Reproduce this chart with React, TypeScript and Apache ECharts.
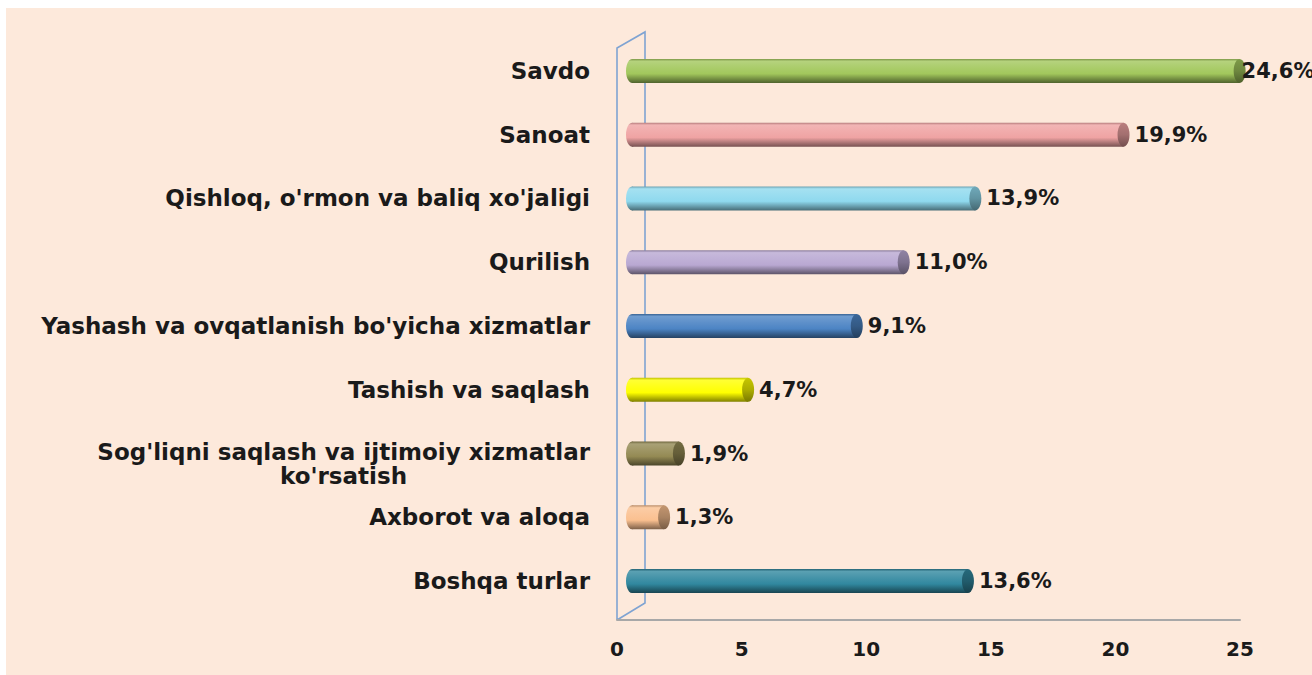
import React, { useEffect, useRef } from 'react';
import * as echarts from 'echarts';

const categories = [
  "Savdo",
  "Sanoat",
  "Qishloq, o'rmon va baliq xo'jaligi",
  "Qurilish",
  "Yashash va ovqatlanish bo'yicha xizmatlar",
  "Tashish va saqlash",
  "Sog'liqni saqlash va ijtimoiy xizmatlar\nko'rsatish",
  "Axborot va aloqa",
  "Boshqa turlar",
];
const values = [24.6, 19.9, 13.9, 11.0, 9.1, 4.7, 1.9, 1.3, 13.6];
const barColors = [
  '#A2C75C',
  '#EFA3A3',
  '#8FD9EE',
  '#B9A8D2',
  '#4C84C4',
  '#FFFF00',
  '#948A54',
  '#FAC090',
  '#31889F',
];
const axisMin = 0;
const axisMax = 25;
const axisInterval = 5;

function parseHex(hex: string) {
  const h = hex.replace('#', '');
  return [parseInt(h.slice(0, 2), 16), parseInt(h.slice(2, 4), 16), parseInt(h.slice(4, 6), 16)];
}
function mix(hex: string, target: number, t: number) {
  const c = parseHex(hex).map((v) => Math.round(v + (target - v) * t));
  return `rgb(${c[0]},${c[1]},${c[2]})`;
}
function cylGrad(hex: string) {
  return new echarts.graphic.LinearGradient(0, 0, 0, 1, [
    { offset: 0, color: mix(hex, 0, 0.25) },
    { offset: 0.1, color: mix(hex, 255, 0.2) },
    { offset: 0.35, color: mix(hex, 255, 0.1) },
    { offset: 0.62, color: hex },
    { offset: 0.85, color: mix(hex, 0, 0.3) },
    { offset: 1, color: mix(hex, 0, 0.5) },
  ]);
}
function capGrad(hex: string) {
  return new echarts.graphic.LinearGradient(0, 0, 0, 1, [
    { offset: 0, color: mix(hex, 0, 0.22) },
    { offset: 0.5, color: mix(hex, 0, 0.32) },
    { offset: 1, color: mix(hex, 0, 0.52) },
  ]);
}
const fmt = (v: number) => v.toFixed(1).replace('.', ',') + '%';

const FONT = 'DejaVu Sans';
const TEXT = '#1a1a1a';

export default function App() {
  const ref = useRef<HTMLDivElement>(null);
  useEffect(() => {
    document.body.style.margin = '0';
    const chart = echarts.init(ref.current!, undefined, { renderer: 'svg' });

    const ctx = document.createElement('canvas').getContext('2d')!;
    ctx.font = `bold 23px "${FONT}"`;
    const multi = categories.find((c) => c.includes('\n')) || '';
    const w1 = Math.ceil(ctx.measureText(multi.split('\n')[0]).width);

    const option: any = {
      animation: false,
      backgroundColor: '#ffffff',
      tooltip: { show: false },
      graphic: [
        {
          type: 'rect',
          z: -10,
          silent: true,
          shape: { x: 6, y: 8, width: 1306, height: 667 },
          style: { fill: '#FDE9DB' },
        },
        {
          type: 'polyline',
          z: -5,
          silent: true,
          shape: { points: [[617, 620], [617, 48], [645, 32], [645, 603], [617, 620]] },
          style: { stroke: '#7FA3D2', lineWidth: 1.6, fill: 'none' },
        },
      ],
      grid: [
        { left: 632, right: 62.5, top: 39, bottom: 62, containLabel: false },
        { left: 617, right: 72, top: 100, bottom: 55, containLabel: false },
      ],
      xAxis: [
        { type: 'value', gridIndex: 0, min: axisMin, max: axisMax, interval: axisInterval, show: false },
        {
          type: 'value',
          gridIndex: 1,
          min: axisMin,
          max: axisMax,
          interval: axisInterval,
          axisLine: { show: true, lineStyle: { color: '#A8A8A8', width: 2 } },
          axisTick: { show: false },
          splitLine: { show: false },
          axisLabel: { margin: 19, fontSize: 20, fontWeight: 'bold', fontFamily: FONT, color: TEXT },
        },
      ],
      yAxis: [
        {
          type: 'category',
          gridIndex: 0,
          data: categories.map((c) =>
            c.includes('\n') ? { value: c, textStyle: { padding: [20, 0, 0, 0] } } : c
          ),
          inverse: true,
          axisLine: { show: false },
          axisTick: { show: false },
          splitLine: { show: false },
          axisLabel: {
            interval: 0,
            margin: 42,
            fontSize: 23,
            lineHeight: 24,
            fontWeight: 'bold',
            fontFamily: FONT,
            color: TEXT,
            formatter: (v: string) => {
              if (v.includes('\n')) {
                const [a, b] = v.split('\n');
                return `{l1|${a}}\n{l2|${b}}`;
              }
              return v;
            },
            rich: {
              l1: { fontSize: 23, fontWeight: 'bold', fontFamily: FONT, color: TEXT, lineHeight: 24 },
              l2: { fontSize: 23, fontWeight: 'bold', fontFamily: FONT, color: TEXT, lineHeight: 24, width: w1, align: 'center' },
            },
          },
        },
        { type: 'value', gridIndex: 1, show: false },
      ],
      series: [
        {
          type: 'scatter',
          name: 'start',
          xAxisIndex: 0,
          yAxisIndex: 0,
          symbol: 'circle',
          symbolSize: [12, 24],
          clip: false,
          silent: true,
          z: 1,
          itemStyle: { opacity: 1 },
          data: values.map((_, i) => ({ value: [0, i], itemStyle: { color: cylGrad(barColors[i]), opacity: 1 } })),
        },
        {
          type: 'bar',
          xAxisIndex: 0,
          yAxisIndex: 0,
          barWidth: 24,
          silent: true,
          z: 2,
          data: values.map((v, i) => ({ value: v, itemStyle: { color: cylGrad(barColors[i]) } })),
        },
        {
          type: 'scatter',
          name: 'end',
          xAxisIndex: 0,
          yAxisIndex: 0,
          symbol: 'circle',
          symbolSize: [12, 24],
          clip: false,
          silent: true,
          z: 3,
          itemStyle: { opacity: 1 },
          label: {
            show: true,
            position: 'right',
            distance: 5,
            fontSize: 21,
            fontWeight: 'bold',
            fontFamily: FONT,
            color: TEXT,
            opacity: 1,
            formatter: (p: any) => fmt(p.value[0]),
          },
          data: values.map((v, i) => ({
            value: [v, i],
            itemStyle: { color: capGrad(barColors[i]), opacity: 1 },
            ...(i === 0 ? { label: { distance: -4 } } : {}),
          })),
        },
      ],
    };
    chart.setOption(option);
    return () => chart.dispose();
  }, []);
  return <div ref={ref} style={{ width: 1312, height: 675 }} />;
}
